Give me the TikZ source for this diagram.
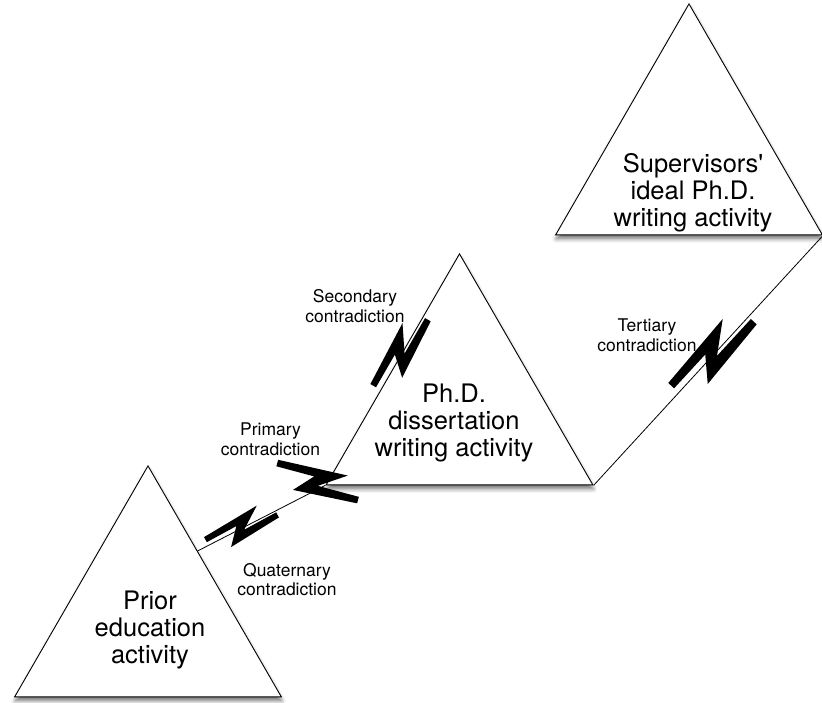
\documentclass[tikz,border=0pt]{standalone}
\usepackage{fontspec}
\setmainfont{TeX Gyre Heros}
\usetikzlibrary{shapes.geometric,shadows.blur,calc}
\begin{document}
\begin{tikzpicture}
    [x=1pt, y=1pt,
     activity/.style={regular polygon, regular polygon sides=3, minimum size=308pt, inner sep=0pt,
                      draw, line width=0.9pt, fill=white,
                      blur shadow={shadow xshift=0.5pt, shadow yshift=-4pt, shadow blur radius=4pt, shadow opacity=55}},
     bigtext/.style={align=center, font=\fontsize{25.5}{26.8}\selectfont},
     smalltext/.style={align=center, font=\fontsize{17.5}{19.6}\selectfont},
     link/.style={line width=0.8pt},
     bolt/.pic={\fill (-54,6.3) -- (-54,14.2) -- (30,17.5) -- (-1,-3.3) -- (49,-3.3) -- (49,-11.2) -- (-28,-15.5) -- (-8,6.3) -- cycle;}]
    \useasboundingbox (0,0) rectangle (822,702);
    % the three activity systems
    \node[activity] (prior) at (148,82.1) {};
    \node[activity] (phd) at (459.5,294.1) {};
    \node[activity] (sup) at (689,544.1) {};
    % links between them
    \coordinate (prior-side) at ($(prior.corner 1)!0.37!(prior.corner 3)$);
    \draw[link] (prior-side) -- (phd.corner 2);
    \draw[link] (phd.corner 3) -- (sup.corner 3);
    % contradictions
    \path ($(prior-side)!0.36!(phd.corner 2)$) pic[rotate=28.6, scale=0.73] {bolt};
    \path ([shift={(-6,2)}]phd.corner 2) pic[rotate=-15, scale=0.85] {bolt};
    \path ($(phd.corner 2)!0.576!(phd.corner 1)$) pic[rotate=60, scale=0.82] {bolt};
    \path ($(phd.corner 3)!0.53!(sup.corner 3)$) pic[rotate=47.4, scale=1] {bolt};
    % texts
    \node[bigtext] (prior-text) at (150,72) {Prior\\education\\activity};
    \node[bigtext] (phd-text) at (454,279) {Ph.D.\\dissertation\\writing activity};
    \node[bigtext] (sup-text) at (693,509.5) {Supervisors\textquotesingle\\ideal Ph.D.\\writing activity};
    \node[smalltext] (secondary) at (355,396) {Secondary\\contradiction};
    \node[smalltext] (primary) at (270.5,263) {Primary\\contradiction};
    \node[smalltext] (quaternary) at (287,122.5) {Quaternary\\contradiction};
    \node[smalltext] (tertiary) at (647,366.5) {Tertiary\\contradiction};
\end{tikzpicture}
\end{document}
